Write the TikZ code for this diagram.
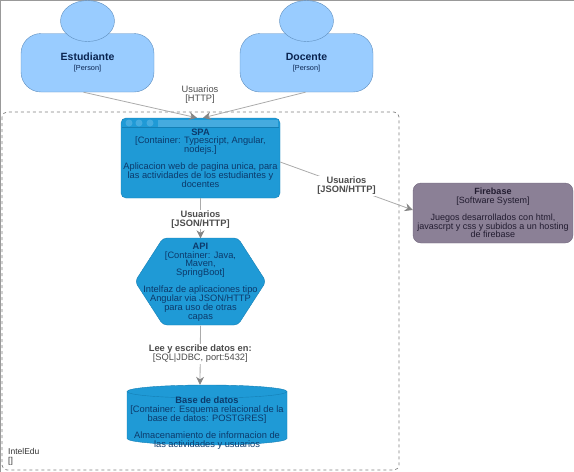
\documentclass[tikz,border=0pt]{standalone}
\usepackage{fontspec}
\setmainfont{Liberation Sans}
\usetikzlibrary{positioning, calc, arrows.meta}
\definecolor{personfill}{HTML}{99CCFF}
\definecolor{personline}{HTML}{5F8FBF}
\definecolor{contfill}{HTML}{1F9AD6}
\definecolor{contline}{HTML}{147FB5}
\definecolor{contbar}{HTML}{45ABDF}
\definecolor{inktext}{HTML}{0C3A6B}
\definecolor{navytext}{HTML}{0A2450}
\definecolor{sysfill}{HTML}{8B8096}
\definecolor{sysline}{HTML}{73687E}
\definecolor{systext}{HTML}{221C30}
\definecolor{relline}{HTML}{ABABAB}
\definecolor{reltip}{HTML}{858585}
\tikzset{
    person/.style={draw=personline, fill=personfill, rounded corners=20pt, minimum width=133pt, minimum height=58.5pt, inner sep=0pt, align=center, text=navytext},
    head/.style={draw=personline, fill=personfill},
    container/.style={inner sep=0pt, align=center, text=inktext, font=\fontsize{9.3}{8.7}\selectfont},
    shapeline/.style={draw=contline, fill=contfill},
    system/.style={draw=sysline, fill=sysfill, rounded corners=8pt, minimum width=160pt, minimum height=60pt, inner sep=0pt, align=center, text=systext, font=\fontsize{9}{8.6}\selectfont},
    rel/.style={->, color=relline, line width=0.8pt, >={Stealth[length=8pt,width=8pt,color=reltip]}},
    rellabel/.style={fill=white, inner sep=1pt, align=center, text=black!70, font=\fontsize{9.3}{9}\selectfont}
}

\begin{document}
\begin{tikzpicture}[x=1pt, y=-1pt]
    \useasboundingbox (0,0) rectangle (574,472);

    % Picture edge
    \draw[color=gray!80, line width=0.8pt] (0.4,472) -- (0.4,0.4) -- (574,0.4);

    % ================= Boundary =================
    \draw[dashed, color=gray, line width=0.7pt, rounded corners=5pt] (2,112) rectangle (399,470);
    \node[anchor=south west, inner sep=0pt, align=left, text=black!80, font=\fontsize{8.5}{9}\selectfont] (intel) at (8,465) {IntelEdu\\{[]}};

    % ================= Persons =================
    \node[person] (estudiante) at (87.5,62.75) {{\fontsize{10.5}{10}\selectfont\textbf{Estudiante}}\\[-2pt]{\fontsize{7.3}{7}\selectfont [Person]}};
    \draw[head] (87.5,21) ellipse (27 and 20.5);

    \node[person] (docente) at (306.5,62.75) {{\fontsize{10.5}{10}\selectfont\textbf{Docente}}\\[-2pt]{\fontsize{7.3}{7}\selectfont [Person]}};
    \draw[head] (306.5,21) ellipse (27 and 20.5);

    % ================= SPA =================
    \draw[shapeline, rounded corners=5pt] (121,118) rectangle (280,198);
    \fill[contbar] (158,120) rectangle (278,126.5);
    \foreach \x in {129,139,150}
        \fill[contbar] (\x,123) circle (3.5);
    \draw[contline] (122,127.5) -- (279,127.5);
    \node[container, minimum width=159pt, minimum height=80pt] (spa) at (200.5,158) {\textbf{SPA}\\{[Container:  Typescript, Angular,}\\nodejs.]\\[8.7pt]Aplicacion web de pagina unica, para\\las actividades de los estudiantes y\\docentes};

    % ================= API =================
    \draw[shapeline, rounded corners=4pt] (163,238) -- (238,238) -- (266,281.5) -- (238,325) -- (163,325) -- (135,281.5) -- cycle;
    \node[container, minimum width=131pt, minimum height=87pt] (api) at (200.5,282) {\textbf{API}\\{[Container: Java,}\\Maven,\\SpringBoot]\\[8.7pt]Intelfaz de aplicaciones tipo\\Angular via JSON/HTTP\\para uso de otras\\capas};

    % ================= Base de datos =================
    \draw[shapeline] (127,391.5) arc[start angle=180, end angle=360, x radius=80, y radius=6.5] -- (287,438.5) arc[start angle=0, end angle=180, x radius=80, y radius=6.5] -- cycle;
    \draw[contline] (127,391.5) arc[start angle=180, end angle=0, x radius=80, y radius=6.5];
    \node[container, minimum width=160pt, minimum height=76pt] (db) at (207,423) {\textbf{Base de datos}\\{[Container: Esquema relacional de la}\\base de datos: POSTGRES]\\[8.7pt]Almacenamiento de informacion de\\las actividades y usuarios};

    % ================= Firebase =================
    \node[system] (firebase) at (493,213) {\textbf{Firebase}\\{[Software System]}\\[8.6pt]Juegos desarrollados con html,\\javascrpt y css y subidos a un hosting\\de firebase};

    % ================= Relations =================
    \draw[rel] ([xshift=-4pt]estudiante.south) -- ([xshift=-3.5pt]spa.north);
    \draw[rel] ([xshift=-1pt]docente.south) -- ([xshift=2.5pt]spa.north);
    \node[rellabel, fill=none] (http) at (200,95) {Usuarios\\{[HTTP]}};

    \draw[rel] (spa.south) -- node[rellabel, pos=0.53] {\textbf{Usuarios}\\\textbf{[JSON/HTTP]}} (api.north);
    \draw[rel] (api.south) -- node[rellabel, pos=0.48] {\textbf{Lee y escribe datos en:}\\{[SQL|JDBC, port:5432]}} ([xshift=-7pt]db.north);
    \draw[rel] ([yshift=-4pt]spa.east) -- node[rellabel, pos=0.5] {\textbf{Usuarios}\\\textbf{[JSON/HTTP]}} ([yshift=3pt]firebase.west);

\end{tikzpicture}
\end{document}
